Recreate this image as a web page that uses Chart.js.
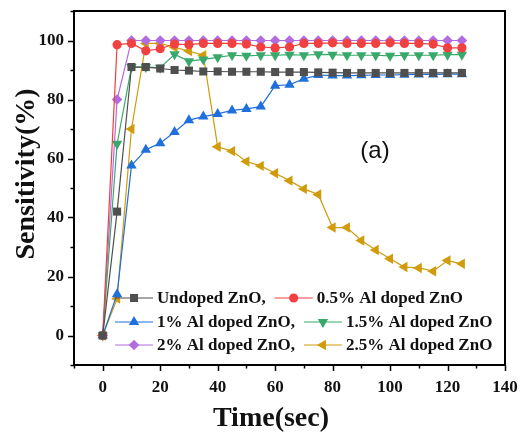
<!DOCTYPE html>
<html>
<head>
<meta charset="utf-8">
<script src="https://cdn.jsdelivr.net/npm/chart.js@4"></script>
<style>
  html, body { margin: 0; padding: 0; background: #fff; }
  #wrap { width: 520px; height: 432px; position: relative; }
</style>
</head>
<body>
<div id="wrap"><canvas id="chart" width="520" height="432"></canvas></div>
<script>
// time axis (sec)
const times = [0, 5, 10, 15, 20, 25, 30, 35, 40, 45, 50, 55, 60, 65, 70, 75, 80, 85, 90, 95, 100, 105, 110, 115, 120, 125];

// sensitivity (%) per sample
const undoped = [0, 42, 91, 91, 90.5, 90, 89.8, 89.5, 89.5, 89.4, 89.4, 89.4, 89.3, 89.3, 89.3, 89.2, 89.1, 89, 89, 89, 89, 89, 89, 89, 89, 89];
const al05 = [0, 98.6, 99, 96.5, 97.2, 98.8, 98.6, 99, 99, 99, 98.8, 97.8, 97.5, 97.8, 99, 99, 99.2, 99, 99, 99, 99.2, 99, 99, 98.8, 97.5, 97.5];
const al1 = [0, 14, 57.6, 63, 65.2, 69, 73, 74.2, 75.1, 76.3, 76.8, 77.6, 84.7, 85, 87, 88.3, 88.1, 88.1, 88.2, 88.3, 88.3, 88.4, 88.5, 88.5, 88.6, 88.6];
const al15 = [0, 65, 91, 91, 90.8, 95.3, 93, 93.6, 94.3, 95, 94.8, 95, 95, 95.2, 95, 95.3, 95.2, 95, 95, 95, 94.8, 95, 95, 95, 95.2, 95.2];
const al2 = [0, 80, 100, 100, 100, 100, 100, 100, 100, 100, 100, 100, 100, 100, 100, 100, 100, 100, 100, 100, 100, 100, 100, 100, 100, 100];
const al25 = [0, 12.5, 70, 99, 99, 97.7, 96.4, 95, 64, 62.5, 59, 57.5, 55, 52.5, 49.7, 47.8, 36.6, 36.6, 32.2, 29, 26, 23.2, 22.9, 21.8, 25.4, 24.3];

const seriesLabels = ['Undoped ZnO,', '0.5% Al doped ZnO', '1% Al doped ZnO,', '1.5% Al doped ZnO', '2% Al doped ZnO,', '2.5% Al doped ZnO'];

// y ticks labelled every 20, minor every 10
const yLabelTicks = [0, 20, 40, 60, 80, 100];
const xLabelTicks = [0, 20, 40, 60, 80, 100, 120, 140];

const serif = '"Liberation Serif", "Times New Roman", serif';

const toPoints = (ys) => ys.map((y, i) => ({ x: times[i], y }));

const makeSet = (label, ys, color, style, rotation, radius) => ({
    label,
    data: toPoints(ys),
    borderColor: color,
    backgroundColor: color,
    borderWidth: 1.2,
    pointStyle: style,
    pointRotation: rotation,
    pointRadius: radius,
    pointBorderWidth: 0,
    pointBackgroundColor: color,
    tension: 0
});

const datasets = [
    makeSet(seriesLabels[0], undoped, '#4f4f4f', 'rect', 0, 5.7),
    makeSet(seriesLabels[1], al05, '#f0403f', 'circle', 0, 4.6),
    makeSet(seriesLabels[2], al1, '#1f6fdc', 'triangle', 0, 6),
    makeSet(seriesLabels[3], al15, '#38a96a', 'triangle', 180, 6),
    makeSet(seriesLabels[4], al2, '#b06ce0', 'rectRot', 0, 5.3),
    makeSet(seriesLabels[5], al25, '#d09c0c', 'triangle', -90, 6)
];

// draws a marker like chart.js does, for the legend
function drawMarker(ctx, style, rotation, r, x, y, color) {
    ctx.save();
    ctx.translate(x, y);
    ctx.rotate(rotation * Math.PI / 180);
    ctx.fillStyle = color;
    ctx.beginPath();
    if (style === 'circle') {
        ctx.arc(0, 0, r, 0, Math.PI * 2);
    } else if (style === 'rect') {
        const s = r * Math.SQRT1_2;
        ctx.rect(-s, -s, 2 * s, 2 * s);
    } else if (style === 'rectRot') {
        ctx.moveTo(0, -r); ctx.lineTo(r, 0); ctx.lineTo(0, r); ctx.lineTo(-r, 0);
    } else {
        ctx.moveTo(0, -r);
        ctx.lineTo(r * 0.866, r * 0.5);
        ctx.lineTo(-r * 0.866, r * 0.5);
    }
    ctx.closePath();
    ctx.fill();
    ctx.restore();
}

const decorations = {
    id: 'decorations',
    afterDraw(chart) {
        const { ctx, chartArea, scales } = chart;
        const xs = scales.x, ys = scales.y;
        ctx.save();

        // frame top / right
        ctx.strokeStyle = '#000';
        ctx.lineWidth = 2;
        ctx.beginPath();
        ctx.moveTo(chartArea.left, chartArea.top);
        ctx.lineTo(chartArea.right, chartArea.top);
        ctx.lineTo(chartArea.right, chartArea.bottom);
        ctx.stroke();

        // tick marks
        ctx.lineWidth = 1.5;
        ctx.beginPath();
        for (let v = -10; v <= 110; v += 10) {
            const py = Math.round(ys.getPixelForValue(v)) + 0.5;
            const len = v % 20 === 0 ? 6 : 3.5;
            ctx.moveTo(chartArea.left - len, py);
            ctx.lineTo(chartArea.left, py);
        }
        for (let v = -10; v <= 140; v += 10) {
            const px = Math.round(xs.getPixelForValue(v)) + 0.5;
            const len = v % 20 === 0 ? 6 : 3.5;
            ctx.moveTo(px, chartArea.bottom);
            ctx.lineTo(px, chartArea.bottom + len);
        }
        ctx.stroke();

        // legend inside plot, each row flows left to right
        const rows = [298, 322, 345];
        ctx.font = 'bold 17px ' + serif;
        ctx.textBaseline = 'middle';
        ctx.textAlign = 'left';
        let cursor = 115;
        chart.data.datasets.forEach((ds, i) => {
            if (i % 2 === 0) cursor = 115;
            const y = rows[Math.floor(i / 2)];
            const x0 = cursor, x1 = cursor + 38;
            ctx.strokeStyle = ds.borderColor;
            ctx.lineWidth = 1.2;
            ctx.beginPath();
            ctx.moveTo(x0, y);
            ctx.lineTo(x1, y);
            ctx.stroke();
            drawMarker(ctx, ds.pointStyle, ds.pointRotation, ds.pointRadius, (x0 + x1) / 2, y, ds.borderColor);
            ctx.fillStyle = '#111';
            ctx.fillText(ds.label, x1 + 4, y + 1);
            cursor = x1 + 4 + ctx.measureText(ds.label).width + 9;
        });

        // panel label
        ctx.font = '24px "Liberation Sans", Arial, sans-serif';
        ctx.fillStyle = '#111';
        ctx.textAlign = 'center';
        ctx.textBaseline = 'middle';
        ctx.fillText('(a)', 375, 151);

        // axis titles
        ctx.font = 'bold 28px ' + serif;
        ctx.textBaseline = 'alphabetic';
        ctx.fillText('Time(sec)', 271, 426);
        ctx.save();
        ctx.translate(34, 174);
        ctx.rotate(-Math.PI / 2);
        ctx.fillText('Sensitivity(%)', 0, 0);
        ctx.restore();

        ctx.restore();
    }
};

new Chart(document.getElementById('chart'), {
    type: 'line',
    data: { datasets },
    options: {
        responsive: false,
        animation: false,
        layout: { padding: { left: 0, top: 11, right: 15, bottom: 0 } },
        plugins: { legend: { display: false }, tooltip: { enabled: false } },
        scales: {
            x: {
                type: 'linear',
                min: -10, max: 140,
                afterFit: (s) => { s.height = 67; s.paddingLeft = 0; s.paddingRight = 0; },
                border: { display: true, color: '#000', width: 2 },
                grid: { display: false, drawTicks: false },
                ticks: {
                    stepSize: 10,
                    padding: 12,
                    maxRotation: 0,
                    autoSkip: false,
                    color: '#111',
                    font: { family: serif, size: 17, weight: 'bold' },
                    callback: (v) => xLabelTicks.includes(v) ? String(v) : ''
                }
            },
            y: {
                min: -10, max: 110,
                afterFit: (s) => { s.width = 74; s.paddingTop = 0; s.paddingBottom = 0; },
                border: { display: true, color: '#000', width: 2 },
                grid: { display: false, drawTicks: false },
                ticks: {
                    stepSize: 10,
                    padding: 10,
                    autoSkip: false,
                    color: '#111',
                    font: { family: serif, size: 17, weight: 'bold' },
                    callback: (v) => yLabelTicks.includes(v) ? String(v) : ''
                }
            }
        }
    },
    plugins: [decorations]
});
</script>
</body>
</html>
